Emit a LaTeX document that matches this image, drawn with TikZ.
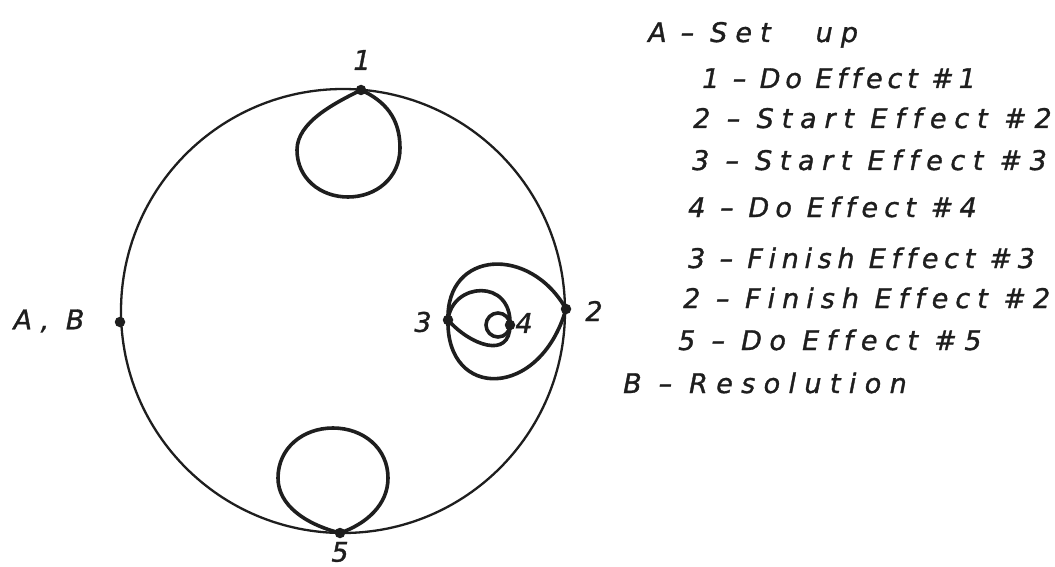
\documentclass[tikz,border=0pt]{standalone}
\usepackage{fontspec}
\newfontfamily\hand[Ligatures=NoCommon,FakeBold=1.2]{DejaVu Sans}
\definecolor{ink}{HTML}{1E1E1E}
\begin{document}
\begin{tikzpicture}[x=1pt,y=-1pt,
  pen/.style={line width=3.6pt, ink, line cap=round, line join=round},
  rim/.style={line width=2.3pt, ink},
  dot/.style={circle, fill=ink, inner sep=0pt, minimum size=10.5pt},
  lbl/.style={font=\hand\itshape\fontsize{27}{30}\selectfont\addfontfeature{LetterSpace=#1}, text=ink, inner sep=0pt},
  lbl/.default=0,
  item/.style={lbl=#1, anchor=base west}]
\useasboundingbox[fill=white] (0,0) rectangle (1055,567);
% main circle
\coordinate (c) at (343,311);
\draw[rim] (c) circle[radius=222];
% points
\node[dot] (p1) at (361,90) {};
\node[dot] (p2) at (566,309) {};
\node[dot] (p3) at (448,320) {};
\node[dot] (p4) at (510,325) {};
\node[dot] (p5) at (340,533) {};
\node[dot] (pab) at (120,322) {};
% loop at 1
\draw[pen] (p1.center) .. controls (335,103) and (297,122) .. (297,150)
   .. controls (297,178) and (320,197) .. (348,197)
   .. controls (376,197) and (400,178) .. (400,148)
   .. controls (400,118) and (385,101) .. (p1.center);
% loop at 5
\draw[pen] (p5.center) .. controls (305,524) and (278,505) .. (278,478)
   .. controls (278,448) and (303,428) .. (333,428)
   .. controls (363,428) and (388,448) .. (388,478)
   .. controls (388,505) and (366,524) .. (p5.center);
% loops 2-3 and 3-4
\draw[pen] (p2.center) .. controls (530,245) and (446,250) .. (p3.center)
                       .. controls (446,400) and (540,400) .. (p2.center);
\draw[pen] (p3.center) .. controls (452,282) and (512,278) .. (p4.center)
                       .. controls (510,360) and (470,345) .. (p3.center);
\draw[pen] (p4.center) arc[start angle=0, end angle=360, radius=12];
% point labels
\node[lbl] (l1) at (362,60) {1};
\node[lbl] (l2) at (594,311) {2};
\node[lbl] (l3) at (423,322) {3};
\node[lbl] (l4) at (524,323) {4};
\node[lbl] (l5) at (340,552) {5};
\node[lbl=30] (lab) at (49,321) {A, B};
% legend
\node[item=30] (tA) at (648,42) {A\hspace{14pt}–\hspace{16pt}Set\hspace{45pt}up};
\node[item=18] (t1) at (702,88) {1 – Do Effect \#1};
\node[item=29] (t2) at (693,128) {2 – Start Effect \#2};
\node[item=28] (t3) at (692,170) {3 – Start Effect \#3};
\node[item=23] (t4) at (688,217) {4 – Do Effect \#4};
\node[item=21] (t5) at (688,268) {3 – Finish Effect \#3};
\node[item=26] (t6) at (683,308) {2 – Finish Effect \#2};
\node[item=28] (t7) at (678,350) {5 – Do Effect \#5};
\node[item=31] (t8) at (623,393) {B – Resolution};
\end{tikzpicture}
\end{document}
